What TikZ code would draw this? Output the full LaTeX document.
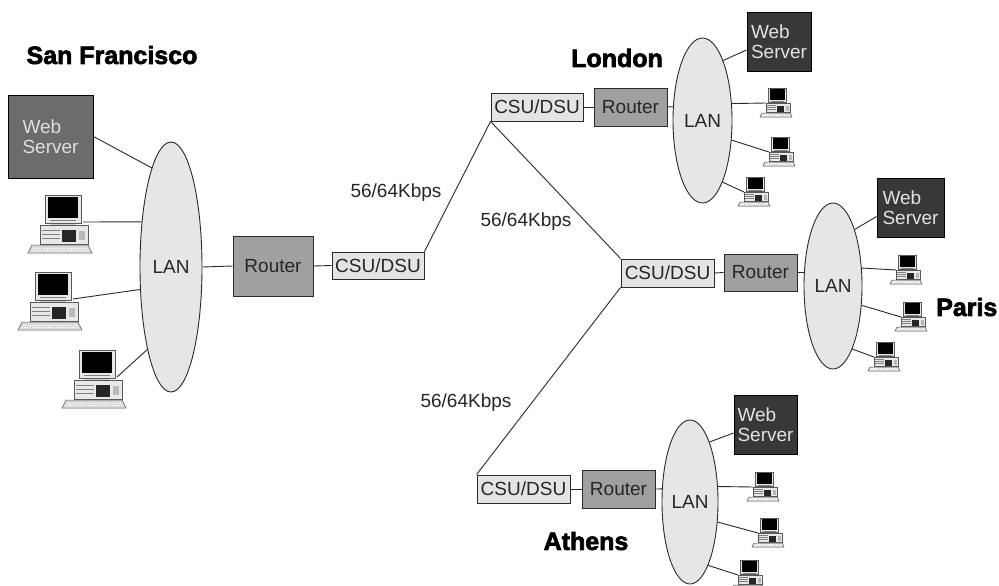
\documentclass[tikz,border=0pt]{standalone}
\usepackage{fontspec}
\setmainfont{Liberation Sans}
\newfontfamily\cityfont{Liberation Sans}[FakeBold=2.6]
\usetikzlibrary{shapes.geometric,calc}

\definecolor{linecol}{HTML}{2A2A2A}
\definecolor{lanfill}{HTML}{E6E6E6}
\definecolor{csufill}{HTML}{E4E4E4}
\definecolor{routerfill}{HTML}{A0A0A0}
\definecolor{webmid}{HTML}{6C6C6C}
\definecolor{webdark}{HTML}{383838}
\definecolor{webtext}{HTML}{E2E2E2}

\tikzset{
  % desktop computer: monitor, system unit and keyboard
  pc/.pic={
    \filldraw[draw=gray!70!black, fill=gray!30, line width=0.5pt]
      (4,50) -- (60,50) -- (64,58) -- (0,58) -- cycle;
    \draw[white, line width=0.8pt, dash pattern=on 1.2pt off 1.2pt]
      (5,53) -- (59,53) (4,55.5) -- (60,55.5);
    \filldraw[draw=gray!70!black, fill=gray!18, line width=0.5pt]
      (12,30) rectangle (60,49);
    \draw[gray, line width=0.5pt] (14,35) -- (32,35) (14,39) -- (32,39) (14,43) -- (32,43);
    \fill[black!85] (34,35) rectangle (48,47);
    \fill[gray!55] (51,36) rectangle (57,45);
    \fill[gray!40] (22,28) rectangle (48,30);
    \filldraw[draw=gray!70!black, fill=gray!18, line width=0.5pt]
      (17,0) rectangle (53,28);
    \fill[black] (20,2) rectangle (50,23);
    \draw[gray, line width=0.5pt] (22,25.5) -- (48,25.5);
    \coordinate (-e) at (55,27);
    \coordinate (-w) at (12,30);
  }
}

\begin{document}
\begin{tikzpicture}[x=1pt, y=-1pt,
  every node/.style={font=\fontsize{19}{20}\selectfont, inner sep=0pt, text=black!85},
  link/.style={draw=linecol, line width=0.9pt},
  lan/.style={ellipse, draw=linecol, fill=lanfill, line width=0.9pt},
  routerbox/.style={rectangle, draw=linecol, fill=routerfill, line width=0.9pt,
    minimum width=73pt, minimum height=38pt},
  csubox/.style={rectangle, draw=linecol, fill=csufill, line width=0.9pt,
    minimum width=93pt, minimum height=28pt},
  webbox/.style={rectangle, draw=black, fill=webdark, text=webtext, align=left,
    line width=0.9pt, minimum width=64pt, minimum height=59pt},
  city/.style={font=\cityfont\bfseries\fontsize{25}{25}\selectfont, text=black},
  speed/.style={text=black!85},
  small/.style={scale=0.5},
]
\fill[white] (0,0) rectangle (999,586);
\useasboundingbox (0,0) rectangle (999,586);

% ---------------- San Francisco ----------------
\node[city] (sfname) at (112,55) {San Francisco};
\node[webbox, fill=webmid, text=gray!25, minimum width=85pt, minimum height=83pt] (sfweb) at (50.5,136.5) {Web\\Server};
\node[lan, minimum width=62pt, minimum height=250pt] (sflan) at (171,267) {LAN};
\node[routerbox, minimum width=80pt, minimum height=60pt] (sfrouter) at (273,266) {Router};
\node[csubox, minimum width=92pt, minimum height=27pt] (sfcsu) at (378,265.5) {CSU/DSU};
\pic (sfpcA) at (28,195) {pc};
\pic (sfpcB) at (18,272) {pc};
\pic (sfpcC) at (62,350) {pc};

\draw[link] (sfweb.east) -- (sflan.101);
\draw[link] (sfpcA-e) -- (sflan.123);
\draw[link] (sfpcB-e) -- (sflan.216);
\draw[link] (sfpcC-e) -- (sflan.254);
\draw[link] (sflan.east) -- (sfrouter.west);
\draw[link] (sfrouter.east) -- (sfcsu.west);

% ---------------- London ----------------
\node[city] (lonname) at (617,58) {London};
\node[csubox, minimum width=92pt] (loncsu) at (537,107) {CSU/DSU};
\node[routerbox] (lonrouter) at (630.5,107) {Router};
\node[lan, minimum width=59pt, minimum height=165pt] (lonlan) at (702.5,120.5) {LAN};
\node[webbox] (lonweb) at (779,42) {Web\\Server};
\pic[small] (lonpcA) at (760,88) {pc};
\pic[small] (lonpcB) at (763,137) {pc};
\pic[small] (lonpcC) at (738,177) {pc};

\draw[link] (loncsu.east) -- (lonrouter.west);
\draw[link] (lonrouter.east) -- (lonlan.155);
\draw[link] (lonlan.71) -- ($(lonweb.west)+(0,8)$);
\draw[link] (lonlan.30) -- (lonpcA-w);
\draw[link] (lonlan.326) -- (lonpcB-w);
\draw[link] (lonlan.288) -- (lonpcC-w);

% ---------------- Paris ----------------
\node[city, anchor=west] (parname) at (936,307) {Paris};
\node[csubox] (parcsu) at (667.5,273) {CSU/DSU};
\node[routerbox, minimum height=37pt] (parrouter) at (760.5,272.5) {Router};
\node[lan, minimum width=58pt, minimum height=166pt] (parlan) at (833,286) {LAN};
\node[webbox, minimum width=67pt] (parweb) at (910.5,207.5) {Web\\Server};
\pic[small] (parpcA) at (890,255) {pc};
\pic[small] (parpcB) at (895,302) {pc};
\pic[small] (parpcC) at (868,342) {pc};

\draw[link] (parcsu.east) -- (parrouter.west);
\draw[link] (parrouter.east) -- (parlan.155);
\draw[link] (parlan.69) -- ($(parweb.west)+(0,9)$);
\draw[link] (parlan.32) -- (parpcA-w);
\draw[link] (parlan.326) -- (parpcB-w);
\draw[link] (parlan.287) -- (parpcC-w);

% ---------------- Athens ----------------
\node[city] (athname) at (586,541) {Athens};
\node[csubox] (athcsu) at (523.5,489) {CSU/DSU};
\node[routerbox] (athrouter) at (618.5,489) {Router};
\node[lan, minimum width=56pt, minimum height=164pt] (athlan) at (690,502) {LAN};
\node[webbox, minimum width=63pt] (athweb) at (765.5,424.5) {Web\\Server};
\pic[small] (athpcA) at (747,472) {pc};
\pic[small] (athpcB) at (752,518) {pc};
\pic[small] (athpcC) at (732,560) {pc};

\draw[link] (athcsu.east) -- (athrouter.west);
\draw[link] (athrouter.east) -- (athlan.155);
\draw[link] (athlan.72) -- ($(athweb.west)+(0,8.5)$);
\draw[link] (athlan.29) -- (athpcA-w);
\draw[link] (athlan.324) -- (athpcB-w);
\draw[link] (athlan.286) -- (athpcC-w);

% ---------------- WAN links ----------------
\draw[link] (sfcsu.north east) -- (loncsu.south west);
\draw[link] (loncsu.south west) -- (parcsu.north west);
\draw[link] (parcsu.south west) -- (athcsu.north west);

\node[speed] (spA) at (396,193) {56/64Kbps};
\node[speed] (spB) at (526,222) {56/64Kbps};
\node[speed] (spC) at (466,403) {56/64Kbps};
\end{tikzpicture}
\end{document}
